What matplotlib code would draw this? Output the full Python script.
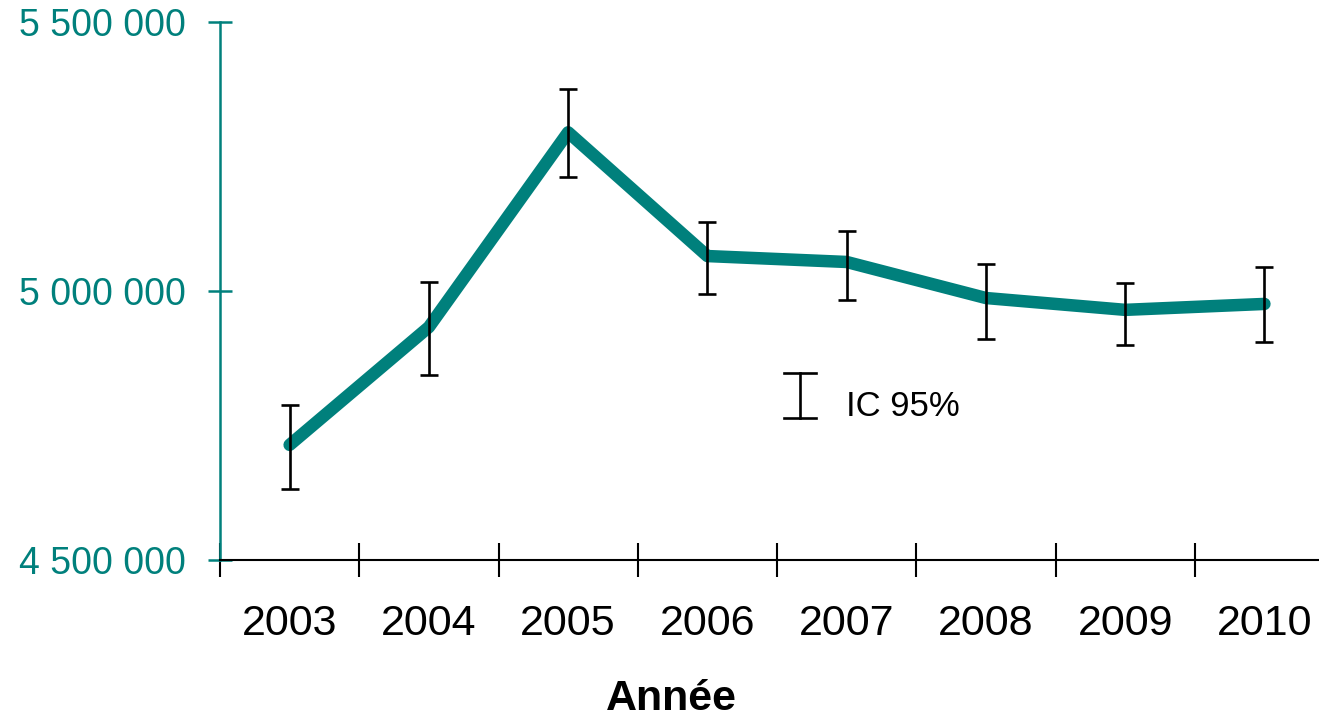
import numpy as np
import matplotlib.pyplot as plt

plt.rcParams['font.family'] = ['Liberation Sans', 'DejaVu Sans']

annees = ['2003', '2004', '2005', '2006', '2007', '2008', '2009', '2010']
valeurs = [4714000, 4933000, 5295000, 5065000, 5054000, 4987000, 4965000, 4976000]
ic_haut = [4788000, 5017000, 5375000, 5128000, 5111000, 5050000, 5015000, 5045000]
ic_bas = [4632000, 4844000, 5212000, 4994000, 4983000, 4911000, 4900000, 4905000]
yticks = [4500000, 5000000, 5500000]
ytick_labels = ['4 500 000', '5 000 000', '5 500 000']

teal = '#00807C'

x = np.arange(len(annees))
v = np.array(valeurs)
err = [v - np.array(ic_bas), np.array(ic_haut) - v]

fig = plt.figure(figsize=(13.19, 7.2), dpi=100)
ax = fig.add_axes([0.1668, 0.2222, 0.8446, 0.7472])

ax.plot(x, v, color=teal, lw=9, solid_capstyle='round', solid_joinstyle='round', zorder=2)
ax.errorbar(x, v, yerr=err, fmt='none', ecolor='black', elinewidth=1.9,
            capsize=6.5, capthick=1.9, zorder=3)

ax.set_xlim(-0.5, 7.5)
ax.set_ylim(4500000, 5500000)

# ticks x aux limites des catégories, étiquettes au centre
ax.set_xticks(np.arange(-0.5, 8, 1))
ax.set_xticklabels([])
ax.set_xticks(x, minor=True)
ax.set_xticklabels(annees, minor=True, fontsize=31)
ax.tick_params(axis='x', which='major', direction='inout', length=24, width=1.5, color='black')
ax.tick_params(axis='x', which='minor', length=0, pad=32)

ax.set_yticks(yticks)
ax.set_yticklabels(ytick_labels, fontsize=27, color=teal)
ax.tick_params(axis='y', direction='inout', length=17, width=1.8, color=teal, pad=16)

ax.spines['top'].set_visible(False)
ax.spines['right'].set_visible(False)
ax.spines['left'].set_color(teal)
ax.spines['left'].set_linewidth(1.8)
ax.spines['bottom'].set_linewidth(1.5)

ax.set_xlabel('Année', fontsize=31, fontweight='bold')
ax.xaxis.set_label_coords(0.405, -0.258)
ax.xaxis.label.set_va('center')

# légende IC 95%
lx, yb, yh = 0.5206, 0.264, 0.3476
ax.plot([lx, lx], [yb, yh], color='black', lw=1.9, transform=ax.transAxes, clip_on=False)
ax.plot([lx - 0.014, lx + 0.014], [yh, yh], color='black', lw=1.9, transform=ax.transAxes)
ax.plot([lx - 0.014, lx + 0.014], [yb, yb], color='black', lw=1.9, transform=ax.transAxes)
ax.text(0.5615, 0.285, 'IC 95%', fontsize=25, transform=ax.transAxes, va='center')

fig.savefig('out.png', dpi=100)
